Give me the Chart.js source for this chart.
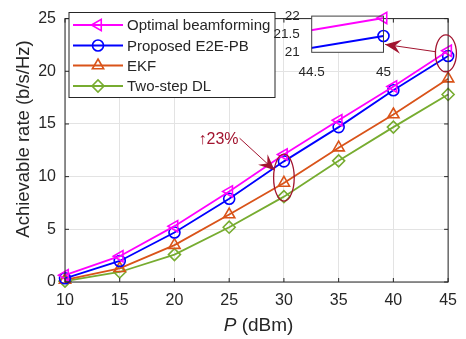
<!DOCTYPE html>
<html>
<head>
<meta charset="utf-8">
<script src="https://cdn.jsdelivr.net/npm/chart.js@4.4.1/dist/chart.umd.min.js"></script>
<style>
  html, body { margin: 0; padding: 0; background: #fff; }
  #wrap { position: relative; width: 466px; height: 339px; }
  #main { position: absolute; left: 0; top: 0; }
  #inset { position: absolute; left: 265px; top: 4px; }
</style>
</head>
<body>
<div id="wrap">
  <canvas id="main" width="466" height="339"></canvas>
  <canvas id="inset" width="130" height="76"></canvas>
</div>
<script>
// data
const powers = [10, 15, 20, 25, 30, 35, 40, 45];
const optimalBF = [0.65, 2.45, 5.3, 8.6, 12.1, 15.35, 18.55, 21.95];
const proposedE2E = [0.35, 2.0, 4.7, 7.9, 11.45, 14.7, 18.2, 21.45];
const ekf = [0.2, 1.3, 3.5, 6.4, 9.4, 12.75, 15.9, 19.3];
const twoStepDL = [0.08, 0.95, 2.6, 5.2, 8.1, 11.5, 14.7, 17.8];
const xTicks = [10, 15, 20, 25, 30, 35, 40, 45];
const yTicks = [0, 5, 10, 15, 20, 25];
const insetXTicks = [44.5, 45];
const insetYTicks = [21, 21.5, 22];

const FONT = "'Liberation Sans', Arial, Helvetica, sans-serif";
const TXT = '#262626';
const RED = '#A2142F';

const series = [
  { label: 'Optimal beamforming', data: optimalBF, color: '#FF00FF', style: 'triangle', rot: -90, r: 6.5 },
  { label: 'Proposed E2E-PB', data: proposedE2E, color: '#0000FF', style: 'circle', rot: 0, r: 5.5 },
  { label: 'EKF', data: ekf, color: '#D95319', style: 'triangle', rot: 0, r: 6.5 },
  { label: 'Two-step DL', data: twoStepDL, color: '#77AC30', style: 'rectRot', rot: 0, r: 6 }
];

const mkSet = (s, clip, lw) => ({
  label: s.label,
  data: powers.map((p, i) => ({ x: p, y: s.data[i] })),
  borderColor: s.color,
  backgroundColor: 'rgba(0,0,0,0)',
  borderWidth: lw,
  pointStyle: s.style,
  pointRotation: s.rot,
  pointRadius: s.r,
  pointBorderWidth: 1.6,
  pointBorderColor: s.color,
  pointBackgroundColor: 'rgba(0,0,0,0)',
  tension: 0,
  clip: clip
});

// annotation positions in data units
const notes = {
  ell30: { x: 30, y: 9.9, rx: 10.3, ry: 23.5 },
  ell45: { x: 44.8, y: 21.7, rx: 10.5, ry: 18.5 },
  arrow30: { x0: 25.95, y0: 13.65, x1: 29.15, y1: 10.6 },
  arrow45: { x0: 43.9, y0: 21.85, x1: 39.25, y1: 22.55 },
  label: { x: 22.2, y: 13.1, text: '\u219123%' }
};

function arrowHead(ctx, x0, y0, x1, y1) {
  const a = Math.atan2(y1 - y0, x1 - x0);
  const L = 16, W = 7, back = 10;
  ctx.save();
  ctx.translate(x1, y1);
  ctx.rotate(a);
  ctx.beginPath();
  ctx.moveTo(0, 0);
  ctx.lineTo(-L, -W);
  ctx.lineTo(-back, 0);
  ctx.lineTo(-L, W);
  ctx.closePath();
  ctx.fill();
  ctx.restore();
}

const decor = {
  id: 'decor',
  afterDatasetsDraw(chart) {
    const { ctx, chartArea: a, scales: { x, y } } = chart;
    ctx.save();
    // box + inward ticks
    ctx.strokeStyle = TXT;
    ctx.lineWidth = 1;
    ctx.strokeRect(a.left, a.top, a.right - a.left, a.bottom - a.top);
    ctx.beginPath();
    xTicks.forEach(t => {
      const px = x.getPixelForValue(t);
      ctx.moveTo(px, a.bottom); ctx.lineTo(px, a.bottom - 4);
      ctx.moveTo(px, a.top); ctx.lineTo(px, a.top + 4);
    });
    yTicks.forEach(t => {
      const py = y.getPixelForValue(t);
      ctx.moveTo(a.left, py); ctx.lineTo(a.left + 4, py);
      ctx.moveTo(a.right, py); ctx.lineTo(a.right - 4, py);
    });
    ctx.stroke();

    // axis titles
    ctx.fillStyle = TXT;
    ctx.textBaseline = 'middle';
    ctx.save();
    ctx.translate(24, 139);
    ctx.rotate(-Math.PI / 2);
    ctx.textAlign = 'center';
    ctx.font = '18.5px ' + FONT;
    ctx.fillText('Achievable rate (b/s/Hz)', 0, 0);
    ctx.restore();
    ctx.font = 'italic 19px ' + FONT;
    const pW = ctx.measureText('P').width;
    ctx.font = '19px ' + FONT;
    const restW = ctx.measureText(' (dBm)').width;
    const cx = (a.left + a.right) / 2;
    const sx = cx - (pW + restW) / 2 + 2;
    ctx.textAlign = 'left';
    ctx.font = 'italic 19px ' + FONT;
    ctx.fillText('P', sx, 326);
    ctx.font = '19px ' + FONT;
    ctx.fillText(' (dBm)', sx + pW, 326);

    // legend
    const lx = 69, ly = 12.5, lw = 206, lh = 85;
    ctx.fillStyle = '#fff';
    ctx.fillRect(lx, ly, lw, lh);
    ctx.strokeStyle = TXT;
    ctx.strokeRect(lx, ly, lw, lh);
    const rows = [25, 45.5, 65.5, 86];
    ctx.font = '15px ' + FONT;
    series.forEach((s, i) => {
      const ry = rows[i];
      ctx.strokeStyle = s.color;
      ctx.lineWidth = 1.8;
      ctx.beginPath();
      ctx.moveTo(73, ry); ctx.lineTo(123, ry);
      ctx.stroke();
      ctx.lineWidth = 1.6;
      ctx.fillStyle = 'rgba(0,0,0,0)';
      Chart.helpers.drawPoint(ctx, { pointStyle: s.style, rotation: s.rot, radius: s.r, borderWidth: 1.6 }, 98, ry);
      ctx.fillStyle = TXT;
      ctx.textAlign = 'left';
      ctx.fillText(s.label, 127, ry + 1);
    });

    // annotations
    ctx.strokeStyle = RED;
    ctx.fillStyle = RED;
    ctx.lineWidth = 1.3;
    [notes.ell30, notes.ell45].forEach(e => {
      ctx.beginPath();
      ctx.ellipse(x.getPixelForValue(e.x), y.getPixelForValue(e.y), e.rx, e.ry, 0, 0, Math.PI * 2);
      ctx.stroke();
    });
    ctx.lineWidth = 1;
    [notes.arrow30, notes.arrow45].forEach(ar => {
      const x0 = x.getPixelForValue(ar.x0), y0 = y.getPixelForValue(ar.y0);
      const x1 = x.getPixelForValue(ar.x1), y1 = y.getPixelForValue(ar.y1);
      ctx.beginPath();
      ctx.moveTo(x0, y0); ctx.lineTo(x1, y1);
      ctx.stroke();
      arrowHead(ctx, x0, y0, x1, y1);
    });
    ctx.font = '16px ' + FONT;
    ctx.textAlign = 'left';
    ctx.textBaseline = 'alphabetic';
    ctx.fillText(notes.label.text, x.getPixelForValue(notes.label.x), y.getPixelForValue(notes.label.y));
    ctx.restore();
  }
};

new Chart(document.getElementById('main'), {
  type: 'line',
  data: { datasets: series.map(s => mkSet(s, false, 1.8)) },
  options: {
    responsive: false,
    animation: false,
    layout: { padding: { top: 7, right: 13.3, left: 0, bottom: 0 } },
    plugins: { legend: { display: false }, tooltip: { enabled: false } },
    scales: {
      x: {
        type: 'linear', min: 10, max: 45,
        afterFit: s => { s.height = 57; },
        afterBuildTicks: s => { s.ticks = xTicks.map(v => ({ value: v })); },
        grid: { color: '#e3e3e3', drawTicks: false },
        border: { display: false },
        ticks: { color: TXT, font: { family: FONT, size: 16 }, padding: 9, maxRotation: 0, autoSkip: false }
      },
      y: {
        min: 0, max: 25,
        afterFit: s => { s.width = 65; },
        afterBuildTicks: s => { s.ticks = yTicks.map(v => ({ value: v })); },
        grid: { color: '#e3e3e3', drawTicks: false },
        border: { display: false },
        ticks: { color: TXT, font: { family: FONT, size: 16 }, padding: 9, autoSkip: false }
      }
    }
  },
  plugins: [decor]
});

// zoomed inset around P = 45 dBm
const insetBox = {
  id: 'insetBox',
  beforeDraw(chart) {
    const { ctx, chartArea: a } = chart;
    ctx.save();
    ctx.fillStyle = '#fff';
    ctx.fillRect(a.left, a.top, a.right - a.left, a.bottom - a.top);
    ctx.restore();
  },
  afterDraw(chart) {
    const { ctx, chartArea: a } = chart;
    ctx.save();
    ctx.strokeStyle = '#404040';
    ctx.lineWidth = 1;
    ctx.strokeRect(a.left, a.top, a.right - a.left, a.bottom - a.top);
    ctx.restore();
  }
};

new Chart(document.getElementById('inset'), {
  type: 'line',
  data: { datasets: series.slice(0, 2).map(s => mkSet(s, { left: 0, top: 10, right: 10, bottom: 0 }, 2)) },
  options: {
    responsive: false,
    animation: false,
    layout: { padding: { top: 10.3, right: 11, left: 0, bottom: 0 } },
    plugins: { legend: { display: false }, tooltip: { enabled: false } },
    scales: {
      x: {
        type: 'linear', min: 44.5, max: 45,
        afterFit: s => { s.height = 27.7; },
        afterBuildTicks: s => { s.ticks = insetXTicks.map(v => ({ value: v })); },
        grid: { display: false },
        border: { display: false },
        ticks: { color: TXT, font: { family: FONT, size: 13.5 }, padding: 4, maxRotation: 0, autoSkip: false, callback: v => String(v) }
      },
      y: {
        min: 21, max: 22,
        afterFit: s => { s.width = 46.7; },
        afterBuildTicks: s => { s.ticks = insetYTicks.map(v => ({ value: v })); },
        grid: { display: false },
        border: { display: false },
        ticks: { color: TXT, font: { family: FONT, size: 13.5 }, padding: 4, autoSkip: false, callback: v => String(v) }
      }
    }
  },
  plugins: [insetBox]
});
</script>
</body>
</html>
